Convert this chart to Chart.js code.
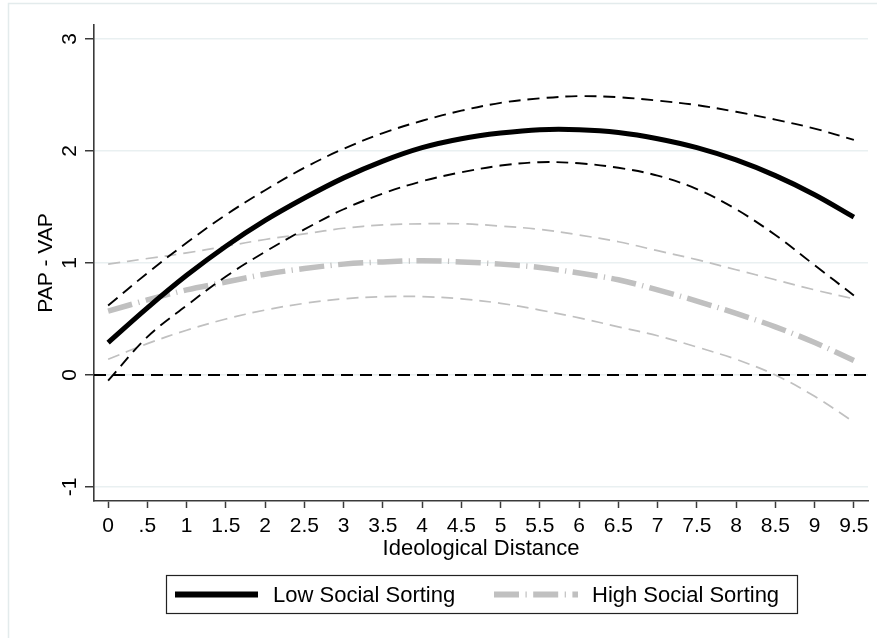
<!DOCTYPE html>
<html>
<head>
<meta charset="utf-8">
<script src="https://cdn.jsdelivr.net/npm/chart.js@4.4.1/dist/chart.umd.min.js"></script>
<style>
  html, body { margin: 0; padding: 0; background: #fff; }
  canvas { display: block; }
</style>
</head>
<body>
<canvas id="c" width="877" height="638"></canvas>
<script>
// Ideological distance grid and axis labelling
const distance = [0, 0.5, 1, 1.5, 2, 2.5, 3, 3.5, 4, 4.5, 5, 5.5, 6, 6.5, 7, 7.5, 8, 8.5, 9, 9.5];
const xTickLabels = ['0', '.5', '1', '1.5', '2', '2.5', '3', '3.5', '4', '4.5', '5', '5.5', '6', '6.5', '7', '7.5', '8', '8.5', '9', '9.5'];
const yTickValues = [-1, 0, 1, 2, 3];
const yTickLabels = ['-1', '0', '1', '2', '3'];
const xRange = [-0.18, 9.68];
const yRange = [-1.125, 3.125];
const xTitle = 'Ideological Distance';
const yTitle = 'PAP - VAP';
const seriesNames = ['Low Social Sorting', 'High Social Sorting'];

// Predicted PAP - VAP, low social sorting, with 95% bounds
const lowEstimate = [0.29, 0.60, 0.89, 1.15, 1.38, 1.58, 1.76, 1.91, 2.03, 2.11, 2.16, 2.19, 2.19, 2.165, 2.11, 2.03, 1.92, 1.78, 1.61, 1.41];
const lowUpper    = [0.62, 0.91, 1.18, 1.43, 1.65, 1.85, 2.02, 2.16, 2.27, 2.36, 2.43, 2.47, 2.49, 2.48, 2.45, 2.41, 2.35, 2.28, 2.20, 2.10];
const lowLower    = [-0.05, 0.34, 0.62, 0.88, 1.10, 1.30, 1.48, 1.62, 1.73, 1.81, 1.87, 1.90, 1.89, 1.85, 1.78, 1.66, 1.48, 1.25, 0.98, 0.71];

// Predicted PAP - VAP, high social sorting, with 95% bounds
const highEstimate = [0.57, 0.67, 0.76, 0.83, 0.90, 0.95, 0.99, 1.01, 1.02, 1.01, 0.99, 0.96, 0.91, 0.85, 0.76, 0.66, 0.55, 0.43, 0.29, 0.13];
const highUpper    = [0.99, 1.04, 1.09, 1.15, 1.21, 1.26, 1.31, 1.34, 1.35, 1.35, 1.33, 1.30, 1.25, 1.19, 1.11, 1.03, 0.94, 0.85, 0.76, 0.68];
const highLower    = [0.14, 0.28, 0.40, 0.50, 0.58, 0.64, 0.68, 0.70, 0.70, 0.68, 0.64, 0.58, 0.51, 0.43, 0.35, 0.25, 0.14, 0.00, -0.19, -0.42];

// Reference line at zero
const zeroLine = [0, 0];

const FONT = '"Liberation Sans", Arial, Helvetica, sans-serif';
const AXIS = '#3a3a3a';
const GRID = '#e9f0f1';
const GREY = '#c0c0c0';

const pts = (ys) => ys.map((y, i) => ({ x: distance[i], y }));

function line(label, values, color, width, dash, extra) {
  return Object.assign({
    label,
    data: values,
    borderColor: color,
    borderWidth: width,
    borderDash: dash,
    borderCapStyle: 'butt',
    borderJoinStyle: 'round',
    fill: false,
    pointRadius: 0,
    tension: 0.35
  }, extra || {});
}

// First dataset is painted last (on top)
const datasets = [
  line(seriesNames[0], pts(lowEstimate), '#000000', 5, []),
  line('low upper', pts(lowUpper), '#000000', 1.9, [12, 7]),
  line('low lower', pts(lowLower), '#000000', 1.9, [12, 7]),
  line(seriesNames[1], pts(highEstimate), GREY, 5.5, [25, 6.5, 1.2, 6.5]),
  line('high upper', pts(highUpper), GREY, 1.7, [12, 7]),
  line('high lower', pts(highLower), GREY, 1.7, [12, 7]),
  line('zero', zeroLine.map((y, i) => ({ x: xRange[i], y })), '#000000', 1.9, [12, 7], { tension: 0 })
];

const decorations = {
  id: 'decorations',
  beforeDraw(chart) {
    const c = chart.ctx;
    c.save();
    c.fillStyle = '#ffffff';
    c.fillRect(0, 0, chart.width, chart.height);
    c.strokeStyle = '#e3ebec';
    c.lineWidth = 1.5;
    c.strokeRect(8.5, 3.5, chart.width + 20, chart.height + 20);
    c.restore();
  },
  afterDraw(chart) {
    const c = chart.ctx;
    const ys = chart.scales.y;
    const area = chart.chartArea;
    c.save();
    c.fillStyle = '#000';
    c.font = '21px ' + FONT;
    c.textAlign = 'center';
    c.textBaseline = 'alphabetic';

    // vertical tick labels
    ys.ticks.forEach((t, i) => {
      const py = ys.getPixelForValue(t.value);
      c.save();
      c.translate(76, py);
      c.rotate(-Math.PI / 2);
      c.fillText(yTickLabels[i], 0, 0);
      c.restore();
    });

    // y axis title
    c.save();
    c.translate(52, (area.top + area.bottom) / 2);
    c.rotate(-Math.PI / 2);
    c.fillText(yTitle, 0, 0);
    c.restore();

    // legend box
    const box = { x: 166.5, y: 575.5, w: 631, h: 38 };
    c.strokeStyle = '#222';
    c.lineWidth = 1.2;
    c.strokeRect(box.x, box.y, box.w, box.h);

    const cy = box.y + box.h / 2;
    const entries = [
      { ds: chart.data.datasets[0], x0: 175, x1: 258, tx: 273 },
      { ds: chart.data.datasets[3], x0: 494, x1: 578, tx: 592 }
    ];
    c.font = '22px ' + FONT;
    c.textAlign = 'left';
    c.textBaseline = 'middle';
    entries.forEach(e => {
      c.save();
      c.strokeStyle = e.ds.borderColor;
      c.lineWidth = 6;
      c.lineCap = 'butt';
      c.setLineDash(e.ds.borderDash);
      c.beginPath();
      c.moveTo(e.x0, cy);
      c.lineTo(e.x1, cy);
      c.stroke();
      c.restore();
      c.fillText(e.ds.label, e.tx, cy + 1);
    });
    c.restore();
  }
};

Chart.defaults.font.family = FONT;
Chart.defaults.font.size = 21;
Chart.defaults.color = '#000';

new Chart(document.getElementById('c'), {
  type: 'line',
  data: { datasets },
  plugins: [decorations],
  options: {
    responsive: false,
    animation: false,
    events: [],
    layout: { padding: { top: 25, right: 9, bottom: 75, left: 0 } },
    plugins: { legend: { display: false }, tooltip: { enabled: false } },
    scales: {
      x: {
        type: 'linear',
        min: xRange[0],
        max: xRange[1],
        afterFit(s) { s.height = 62; },
        afterBuildTicks(s) { s.ticks = distance.map(v => ({ value: v })); },
        ticks: {
          autoSkip: false,
          maxRotation: 0,
          minRotation: 0,
          padding: 6,
          color: '#000',
          font: { size: 21 },
          callback: (v, i) => xTickLabels[i]
        },
        grid: { drawOnChartArea: false, drawTicks: true, tickLength: 7, tickColor: AXIS, tickWidth: 1.5 },
        border: { display: true, color: AXIS, width: 1.6 },
        title: { display: true, text: xTitle, color: '#000', font: { size: 22 }, padding: { top: 0, bottom: 1 } }
      },
      y: {
        type: 'linear',
        min: yRange[0],
        max: yRange[1],
        afterFit(s) { s.width = 94; },
        afterBuildTicks(s) { s.ticks = yTickValues.map(v => ({ value: v })); },
        ticks: { display: false },
        grid: { color: GRID, lineWidth: 1.5, drawTicks: true, tickLength: 9, tickColor: AXIS, tickWidth: 1.5 },
        border: { display: true, color: AXIS, width: 1.6 },
        title: { display: false }
      }
    }
  }
});
</script>
</body>
</html>
